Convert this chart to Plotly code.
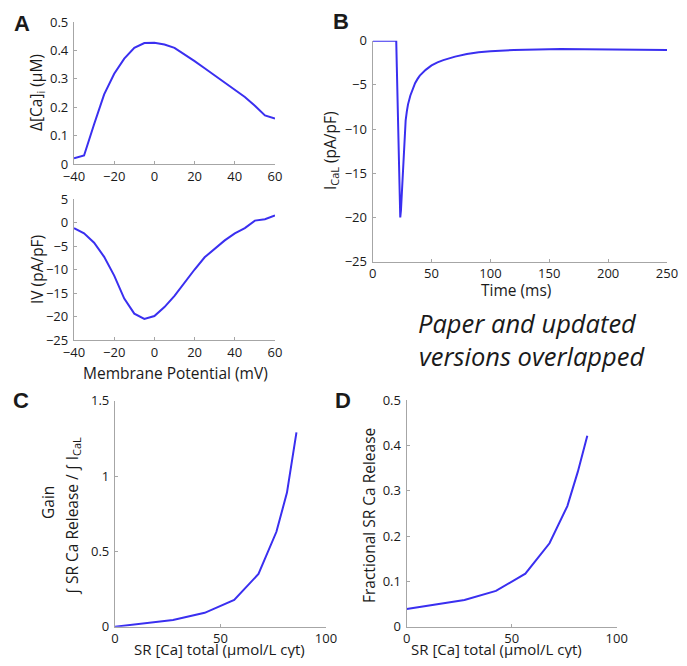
import plotly.graph_objects as go

# The page body has an 8px margin, so the figure is drawn 8px in from the corner.
OFF = 8
W, H = 687 - OFF, 666 - 2 * OFF

# ---------------- data ----------------
vm = [-40, -35, -30, -25, -20, -15, -10, -5, 0, 5, 10, 15, 20, 25, 30, 35, 40, 45, 50, 55, 60]
delta_ca = [0.02, 0.03, 0.14, 0.245, 0.318, 0.371, 0.409, 0.426, 0.427, 0.421, 0.409,
            0.387, 0.362, 0.337, 0.312, 0.287, 0.262, 0.236, 0.205, 0.171, 0.16]
iv = [-1.2, -2.3, -4.3, -7.3, -11.3, -16.2, -19.4, -20.5, -19.9, -18.0, -15.6,
      -12.7, -10.0, -7.4, -5.5, -3.8, -2.3, -1.2, 0.4, 0.7, 1.5]

time_ms = [0, 20, 20.5, 21, 21.5, 22, 22.5, 23, 23.4, 24, 25, 26, 27, 28, 29, 30, 32, 34,
           36, 38, 40, 45, 50, 55, 60, 70, 80, 90, 100, 120, 140, 160, 180, 200, 225, 250]
ical = [0, 0, -3, -6.5, -10, -13.5, -16.5, -19, -20, -19.2, -16.8, -14, -11, -9.0, -8.0,
        -7.2, -6.2, -5.4, -4.8, -4.35, -3.95, -3.3, -2.8, -2.45, -2.2, -1.8, -1.5, -1.3,
        -1.18, -1.05, -0.98, -0.95, -0.96, -0.98, -1.0, -1.05]

sr_total = [0, 13.5, 27.5, 42.5, 56.5, 68, 76.5, 81.5, 86]
gain = [0, 0.02, 0.045, 0.092, 0.177, 0.35, 0.63, 0.89, 1.29]
frac_release = [0.039, 0.049, 0.059, 0.079, 0.117, 0.184, 0.266, 0.342, 0.421]

# ---------------- style ----------------
BLUE = "#3a2ff0"
AXC = "#a6a6a6"
TXT = "#1a1a1a"
FONT = "Open Sans"
TICKF = dict(family=FONT, size=13, color=TXT)
TITLE_SIZE = 15.5

def px_x(a, b):
    return [(a - OFF) / W, (b - OFF) / W]

def px_y(top, bottom):
    return [1 - (bottom - OFF) / H, 1 - (top - OFF) / H]

fig = go.Figure()

panels = [
    # (x, y, xdomain, ydomain, xrange, yrange, xdtick, ydtick)
    (vm, delta_ca, px_x(74, 275), px_y(22, 164), [-40, 60], [0, 0.5], 20, 0.1),
    (vm, iv, px_x(74, 275), px_y(199, 340), [-40, 60], [-25, 5], 20, 5),
    (time_ms, ical, px_x(372.7, 667), px_y(40.7, 261.7), [0, 250], [-25, 0], 50, 5),
    (sr_total, gain, px_x(115, 326), px_y(400.7, 626.7), [0, 100], [0, 1.5], 50, 0.5),
    (sr_total, frac_release, px_x(406.7, 616.7), px_y(400, 626.7), [0, 100], [0, 0.5], 50, 0.1),
]

layout_axes = {}
for i, (xs, ys, xd, yd, xr, yr, dx, dy) in enumerate(panels, start=1):
    sfx = "" if i == 1 else str(i)
    fig.add_trace(go.Scatter(x=xs, y=ys, mode="lines",
                             line=dict(color=BLUE, width=2),
                             xaxis="x" + sfx, yaxis="y" + sfx, cliponaxis=False,
                             showlegend=False, hoverinfo="skip"))
    common = dict(showgrid=False, zeroline=False, showline=True, linecolor=AXC,
                  linewidth=1.3, ticks="inside", ticklen=3, tickcolor=AXC,
                  tickwidth=1, tickfont=TICKF, fixedrange=True, automargin=False,
                  ticklabeloverflow="allow")
    layout_axes["xaxis" + sfx] = dict(domain=xd, range=xr, dtick=dx, tick0=xr[0],
                                      anchor="y" + sfx, ticklabelstandoff=0, **common)
    layout_axes["yaxis" + sfx] = dict(domain=yd, range=yr, dtick=dy, tick0=yr[0],
                                      anchor="x" + sfx, ticklabelstandoff=2, **common)

fig.update_layout(**layout_axes)

annotations = []

def ann(text, x, y, size, angle=0, bold=False, italic=False, family=FONT, color=TXT):
    t = text
    if bold:
        t = "<b>" + t + "</b>"
    if italic:
        t = "<i>" + t + "</i>"
    annotations.append(dict(text=t, x=(x - OFF) / W, y=1 - (y - OFF) / H,
                            xref="paper", yref="paper",
                            showarrow=False, textangle=angle, xanchor="center",
                            yanchor="middle",
                            font=dict(family=family, size=size, color=color)))

# panel letters
ann("A", 22, 24, 22, bold=True, family="Arial")
ann("B", 341, 22, 22, bold=True, family="Arial")
ann("C", 21, 400, 22, bold=True, family="Arial")
ann("D", 343, 400, 22, bold=True, family="Arial")

# axis titles
ann("Δ[Ca]<sub>i</sub> (μM)", 37, 93, TITLE_SIZE, angle=-90)
ann("IV (pA/pF)", 37, 270, TITLE_SIZE, angle=-90)
ann("Membrane Potential (mV)", 175, 373, TITLE_SIZE)
ann("I<sub>CaL</sub> (pA/pF)", 331, 151, TITLE_SIZE, angle=-90)
ann("Time (ms)", 516, 290, TITLE_SIZE)
ann("Gain", 48, 503, TITLE_SIZE, angle=-90)
ann("∫ SR Ca Release / ∫ I<sub>CaL</sub>", 72, 516, TITLE_SIZE, angle=-90)
ann("SR [Ca] total (μmol/L cyt)", 219, 649, 15)
ann("Fractional SR Ca Release", 369, 516, TITLE_SIZE, angle=-90)
ann("SR [Ca] total (μmol/L cyt)", 496, 649, 15)

# note
ann("Paper and updated", 527, 323, 25.5, italic=True)
ann("versions overlapped", 532, 356, 25.5, italic=True)

fig.update_layout(width=W, height=H, margin=dict(l=0, r=0, t=0, b=0),
                  paper_bgcolor="white", plot_bgcolor="white",
                  annotations=annotations)

fig.write_html("out.html", config={"displayModeBar": False})
